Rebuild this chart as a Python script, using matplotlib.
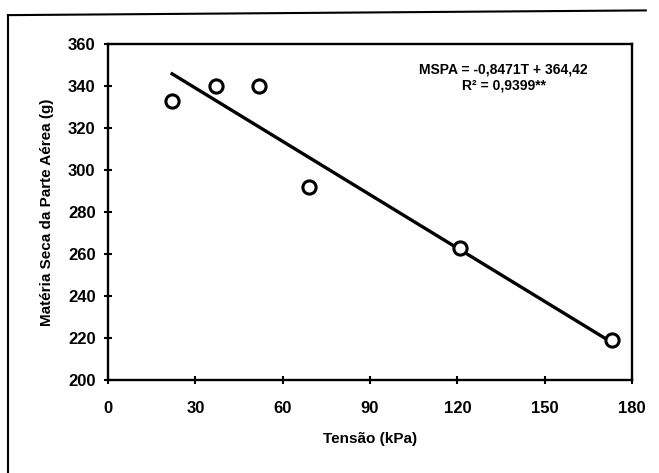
import numpy as np
import matplotlib
matplotlib.use("Agg")
import matplotlib.pyplot as plt
from matplotlib.lines import Line2D

# -----------------------------
# Data
# -----------------------------
tensao = [22, 37, 52, 69, 121, 173]
mspa = [333, 340, 340, 292, 263, 219]
coef_a = -0.8471
coef_b = 364.42
x_ticks = [0, 30, 60, 90, 120, 150, 180]
y_ticks = [200, 220, 240, 260, 280, 300, 320, 340, 360]

plt.rcParams["font.family"] = ["Liberation Sans", "DejaVu Sans"]
plt.rcParams["font.weight"] = "bold"

# -----------------------------
# Figure
# -----------------------------
fig = plt.figure(figsize=(6.59, 4.73), dpi=100)
ax = fig.add_axes([0.164, 0.197, 0.795, 0.710])

fit_x = np.array([min(tensao), max(tensao)])
ax.plot(fit_x, coef_a * fit_x + coef_b, color="black", lw=2.4)
ax.plot(tensao, mspa, "o", mfc="white", mec="black", mew=2.2, ms=9.5)

ax.set_xlim(0, 180)
ax.set_ylim(200, 360)
ax.set_xticks(x_ticks)
ax.set_yticks(y_ticks)
ax.tick_params(direction="inout", length=6, width=1.5, labelsize=12)
ax.tick_params(axis="x", pad=12)
ax.tick_params(axis="y", pad=6)
for s in ax.spines.values():
    s.set_linewidth(1.7)

ax.set_xlabel("Tensão (kPa)", fontsize=11, fontweight="bold", labelpad=12)
ax.set_ylabel("Matéria Seca da Parte Aérea (g)", fontsize=11, fontweight="bold", labelpad=10)

ax.text(0.755, 0.9, "MSPA = -0,8471T + 364,42\nR² = 0,9399**", transform=ax.transAxes,
        ha="center", va="center", fontsize=10, fontweight="bold", linespacing=1.25)

# scanned frame (left and top edges)
fig.add_artist(Line2D([0.012, 0.012], [0.0, 0.968], transform=fig.transFigure, color="black", lw=1.5))
fig.add_artist(Line2D([0.012, 0.98], [0.968, 0.978], transform=fig.transFigure, color="black", lw=1.5))

fig.savefig("out.png", dpi=100)
